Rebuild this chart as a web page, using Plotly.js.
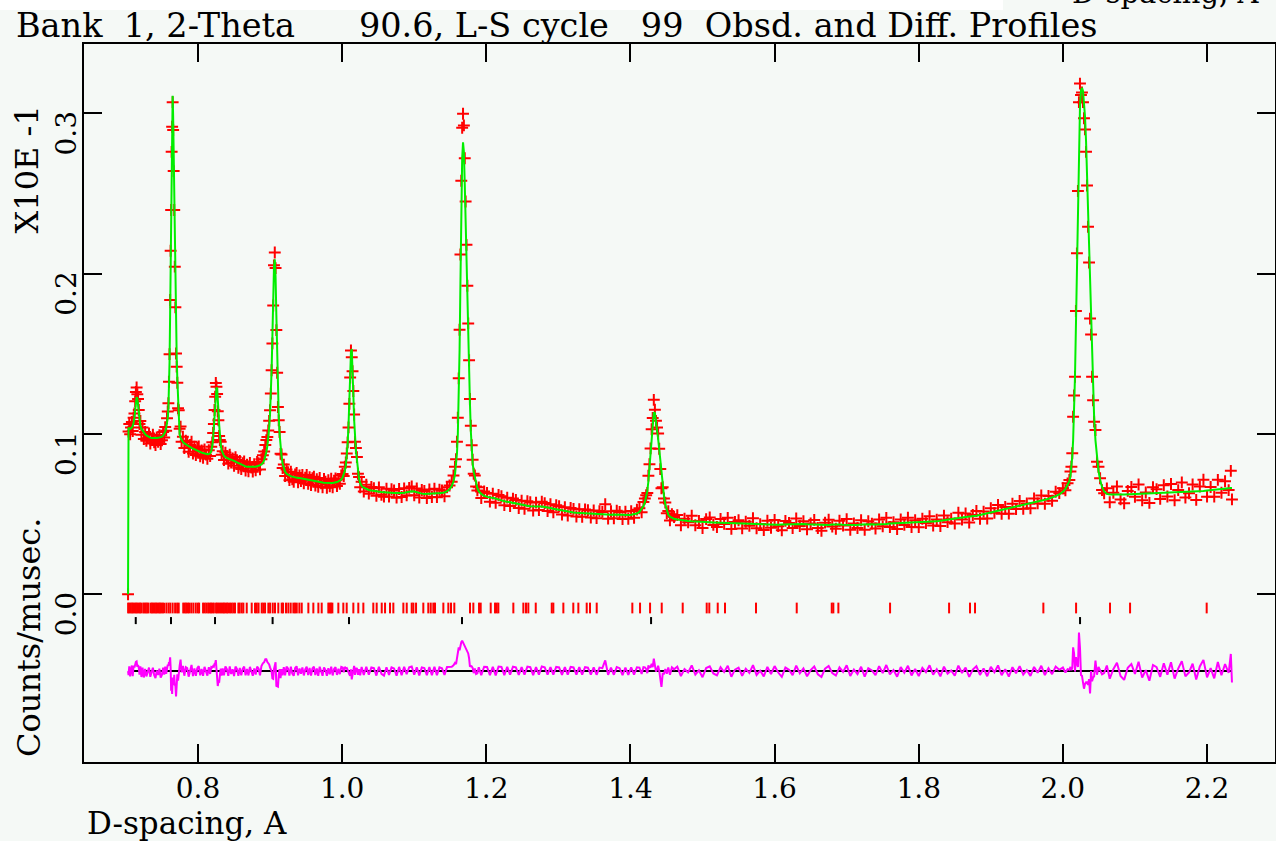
<!DOCTYPE html>
<html>
<head>
<meta charset="utf-8">
<script src="https://cdn.plot.ly/plotly-3.0.1.min.js"></script>
<style>html,body{margin:0;padding:0;background:#f5f9f6;}#chart{width:1276px;height:841px;}</style>
</head>
<body>
<div id="chart"></div>
<script>
// ---- D-spacing of each profile point (A) ----
const dSpacing = [
0.7029,0.7036,0.7046,0.7058,0.7070,0.7082,0.7094,0.7106,0.7118,0.7128,
0.7138,0.7148,0.7158,0.7168,0.7178,0.7188,0.7200,0.7215,0.7230,0.7248,
0.7266,0.7284,0.7302,0.7320,0.7338,0.7356,0.7374,0.7392,0.7410,0.7428,
0.7446,0.7464,0.7482,0.7500,0.7516,0.7531,0.7545,0.7558,0.7570,0.7580,
0.7589,0.7597,0.7605,0.7613,0.7620,0.7627,0.7634,0.7641,0.7648,0.7655,
0.7662,0.7670,0.7678,0.7686,0.7695,0.7704,0.7713,0.7723,0.7733,0.7745,
0.7758,0.7772,0.7790,0.7810,0.7830,0.7850,0.7870,0.7890,0.7910,0.7930,
0.7950,0.7970,0.7990,0.8010,0.8030,0.8050,0.8070,0.8090,0.8110,0.8130,
0.8150,0.8168,0.8184,0.8198,0.8210,0.8220,0.8229,0.8238,0.8247,0.8256,
0.8265,0.8274,0.8283,0.8293,0.8303,0.8315,0.8328,0.8342,0.8360,0.8380,
0.8400,0.8420,0.8440,0.8460,0.8480,0.8500,0.8520,0.8540,0.8560,0.8580,
0.8600,0.8620,0.8640,0.8660,0.8680,0.8700,0.8720,0.8740,0.8760,0.8780,
0.8800,0.8820,0.8840,0.8860,0.8880,0.8900,0.8918,0.8934,0.8948,0.8962,
0.8975,0.8987,0.8999,0.9010,0.9021,0.9032,0.9043,0.9054,0.9065,0.9076,
0.9087,0.9098,0.9109,0.9120,0.9132,0.9145,0.9159,0.9174,0.9190,0.9208,
0.9228,0.9248,0.9268,0.9288,0.9308,0.9328,0.9348,0.9368,0.9388,0.9408,
0.9428,0.9448,0.9468,0.9488,0.9508,0.9528,0.9548,0.9568,0.9588,0.9608,
0.9628,0.9648,0.9668,0.9688,0.9708,0.9728,0.9748,0.9768,0.9788,0.9808,
0.9828,0.9848,0.9868,0.9888,0.9908,0.9928,0.9948,0.9968,0.9988,1.0006,
1.0022,1.0037,1.0051,1.0064,1.0076,1.0088,1.0100,1.0111,1.0122,1.0133,
1.0144,1.0155,1.0166,1.0178,1.0191,1.0205,1.0219,1.0234,1.0250,1.0270,
1.0300,1.0335,1.0370,1.0405,1.0440,1.0475,1.0510,1.0545,1.0580,1.0615,
1.0650,1.0685,1.0720,1.0755,1.0790,1.0825,1.0860,1.0895,1.0930,1.0965,
1.1000,1.1035,1.1070,1.1105,1.1140,1.1175,1.1210,1.1245,1.1280,1.1315,
1.1350,1.1385,1.1420,1.1455,1.1490,1.1520,1.1545,1.1565,1.1580,1.1593,
1.1605,1.1617,1.1629,1.1641,1.1653,1.1665,1.1677,1.1689,1.1701,1.1713,
1.1725,1.1737,1.1749,1.1761,1.1773,1.1785,1.1797,1.1810,1.1825,1.1841,
1.1858,1.1876,1.1895,1.1930,1.1970,1.2010,1.2050,1.2090,1.2130,1.2170,
1.2210,1.2250,1.2290,1.2330,1.2370,1.2410,1.2450,1.2490,1.2530,1.2570,
1.2610,1.2650,1.2690,1.2730,1.2770,1.2810,1.2850,1.2890,1.2930,1.2970,
1.3010,1.3050,1.3090,1.3130,1.3170,1.3210,1.3250,1.3290,1.3330,1.3370,
1.3410,1.3450,1.3490,1.3530,1.3570,1.3610,1.3650,1.3690,1.3730,1.3770,
1.3810,1.3850,1.3890,1.3930,1.3970,1.4010,1.4050,1.4090,1.4125,1.4155,
1.4180,1.4200,1.4218,1.4234,1.4249,1.4264,1.4279,1.4294,1.4309,1.4324,
1.4339,1.4354,1.4369,1.4384,1.4399,1.4414,1.4430,1.4447,1.4465,1.4484,
1.4504,1.4525,1.4548,1.4575,1.4605,1.4650,1.4700,1.4750,1.4800,1.4850,
1.4900,1.4950,1.5000,1.5050,1.5100,1.5150,1.5200,1.5250,1.5300,1.5350,
1.5400,1.5450,1.5500,1.5550,1.5600,1.5650,1.5700,1.5750,1.5800,1.5850,
1.5900,1.5950,1.6000,1.6050,1.6100,1.6150,1.6200,1.6250,1.6300,1.6350,
1.6400,1.6450,1.6500,1.6550,1.6600,1.6650,1.6700,1.6750,1.6800,1.6850,
1.6900,1.6950,1.7000,1.7050,1.7100,1.7150,1.7200,1.7250,1.7300,1.7350,
1.7400,1.7450,1.7500,1.7550,1.7600,1.7650,1.7700,1.7750,1.7800,1.7850,
1.7900,1.7950,1.8000,1.8050,1.8100,1.8150,1.8200,1.8250,1.8300,1.8350,
1.8400,1.8450,1.8500,1.8550,1.8600,1.8650,1.8700,1.8750,1.8800,1.8850,
1.8900,1.8950,1.9000,1.9050,1.9100,1.9150,1.9200,1.9250,1.9300,1.9350,
1.9400,1.9450,1.9500,1.9550,1.9600,1.9650,1.9700,1.9750,1.9800,1.9850,
1.9900,1.9950,2.0000,2.0035,2.0065,2.0090,2.0105,2.0118,2.0130,2.0142,
2.0155,2.0168,2.0181,2.0195,2.0209,2.0223,2.0237,2.0251,2.0265,2.0279,
2.0293,2.0307,2.0321,2.0335,2.0349,2.0363,2.0377,2.0391,2.0405,2.0419,
2.0433,2.0452,2.0473,2.0494,2.0516,2.0543,2.0572,2.0610,2.0650,2.0700,
2.0750,2.0800,2.0850,2.0900,2.0950,2.1000,2.1050,2.1100,2.1150,2.1200,
2.1250,2.1300,2.1350,2.1400,2.1450,2.1500,2.1550,2.1600,2.1650,2.1700,
2.1750,2.1800,2.1850,2.1900,2.1950,2.2000,2.2050,2.2100,2.2150,2.2200,
2.2250,2.2300,2.2330,2.2346
];

// ---- Observed counts/musec (x10E-1) ----
const observed = [
0.0000,0.1015,0.1062,0.0998,0.1041,0.1075,0.1018,0.1102,0.1128,0.1205,
0.1262,0.1290,0.1248,0.1218,0.1150,0.1062,0.1081,0.0995,0.1041,0.0968,
0.1012,0.0958,0.0974,0.1003,0.0941,0.0962,0.0995,0.0948,0.0931,0.0979,
0.0952,0.0992,0.0938,0.0961,0.1012,0.0978,0.1043,0.1021,0.1098,0.1140,
0.1192,0.1326,0.1498,0.1836,0.2143,0.2397,0.2760,0.2917,0.3070,0.2896,
0.2640,0.2397,0.2044,0.1790,0.1502,0.1420,0.1320,0.1160,0.1148,0.1032,
0.1046,0.0952,0.0983,0.0912,0.0958,0.0947,0.0889,0.0931,0.0952,0.0878,
0.0921,0.0869,0.0913,0.0922,0.0861,0.0897,0.0852,0.0904,0.0871,0.0846,
0.0899,0.0862,0.0921,0.0948,0.1006,0.1062,0.1150,0.1232,0.1318,0.1295,
0.1250,0.1142,0.1085,0.0988,0.0962,0.0951,0.0870,0.0893,0.0838,0.0884,
0.0861,0.0815,0.0871,0.0822,0.0848,0.0802,0.0856,0.0837,0.0789,0.0832,
0.0781,0.0818,0.0829,0.0772,0.0809,0.0768,0.0820,0.0791,0.0765,0.0812,
0.0774,0.0826,0.0818,0.0779,0.0842,0.0868,0.0891,0.0932,0.0962,0.0981,
0.1022,0.1082,0.1148,0.1252,0.1398,0.1565,0.1802,0.2052,0.2132,0.2035,
0.1648,0.1382,0.1168,0.1085,0.1012,0.0876,0.0872,0.0788,0.0809,0.0738,
0.0779,0.0761,0.0712,0.0765,0.0718,0.0702,0.0748,0.0757,0.0699,0.0741,
0.0706,0.0745,0.0693,0.0728,0.0744,0.0689,0.0731,0.0682,0.0725,0.0734,
0.0679,0.0718,0.0671,0.0726,0.0692,0.0668,0.0719,0.0703,0.0665,0.0712,
0.0674,0.0721,0.0668,0.0709,0.0722,0.0676,0.0718,0.0690,0.0742,0.0751,
0.0738,0.0796,0.0822,0.0879,0.0948,0.1041,0.1188,0.1352,0.1521,0.1478,
0.1392,0.1268,0.1122,0.0951,0.0912,0.0856,0.0752,0.0731,0.0668,0.0702,
0.0641,0.0683,0.0628,0.0669,0.0662,0.0614,0.0667,0.0621,0.0609,0.0659,
0.0610,0.0656,0.0648,0.0603,0.0657,0.0607,0.0661,0.0617,0.0664,0.0672,
0.0618,0.0660,0.0604,0.0651,0.0645,0.0601,0.0654,0.0607,0.0659,0.0606,
0.0653,0.0648,0.0611,0.0668,0.0679,0.0702,0.0741,0.0796,0.0843,0.0952,
0.1102,0.1347,0.1650,0.2120,0.2580,0.2910,0.2998,0.2925,0.2720,0.2450,
0.2180,0.1925,0.1690,0.1460,0.1218,0.1052,0.0930,0.0840,0.0752,0.0741,
0.0672,0.0648,0.0667,0.0601,0.0641,0.0632,0.0578,0.0628,0.0571,0.0619,
0.0612,0.0556,0.0603,0.0551,0.0597,0.0589,0.0538,0.0584,0.0534,0.0581,
0.0574,0.0523,0.0572,0.0526,0.0577,0.0569,0.0519,0.0562,0.0512,0.0556,
0.0549,0.0498,0.0543,0.0492,0.0538,0.0533,0.0485,0.0531,0.0484,0.0529,
0.0524,0.0479,0.0523,0.0475,0.0519,0.0514,0.0562,0.0472,0.0518,0.0474,
0.0521,0.0513,0.0469,0.0516,0.0471,0.0519,0.0477,0.0528,0.0536,0.0512,
0.0575,0.0598,0.0618,0.0632,0.0740,0.0812,0.0910,0.1030,0.1100,0.1213,
0.1152,0.1082,0.1040,0.1003,0.0908,0.0781,0.0662,0.0668,0.0598,0.0572,
0.0505,0.0519,0.0461,0.0499,0.0482,0.0494,0.0431,0.0471,0.0449,0.0490,
0.0431,0.0457,0.0413,0.0469,0.0479,0.0433,0.0420,0.0470,0.0439,0.0477,
0.0408,0.0451,0.0462,0.0411,0.0453,0.0427,0.0474,0.0412,0.0438,0.0401,
0.0459,0.0415,0.0464,0.0425,0.0399,0.0458,0.0445,0.0413,0.0473,0.0426,
0.0456,0.0405,0.0442,0.0464,0.0414,0.0396,0.0447,0.0465,0.0423,0.0409,
0.0459,0.0429,0.0469,0.0402,0.0442,0.0414,0.0462,0.0403,0.0456,0.0441,
0.0410,0.0467,0.0424,0.0477,0.0420,0.0449,0.0407,0.0467,0.0433,0.0478,
0.0420,0.0462,0.0419,0.0471,0.0444,0.0487,0.0429,0.0466,0.0426,0.0491,
0.0450,0.0472,0.0442,0.0509,0.0467,0.0504,0.0448,0.0495,0.0520,0.0471,
0.0516,0.0473,0.0537,0.0508,0.0557,0.0502,0.0545,0.0503,0.0565,0.0532,
0.0582,0.0534,0.0567,0.0536,0.0598,0.0567,0.0617,0.0565,0.0613,0.0584,
0.0640,0.0631,0.0662,0.0649,0.0692,0.0713,0.0766,0.0796,0.0880,0.1108,
0.1240,0.1357,0.1767,0.2127,0.2516,0.3070,0.3186,0.3115,0.3130,0.3070,
0.2970,0.2900,0.2760,0.2550,0.2293,0.2070,0.1720,0.1620,0.1357,0.1210,
0.1077,0.1025,0.0827,0.0796,0.0724,0.0650,0.0630,0.0661,0.0574,0.0633,
0.0673,0.0592,0.0568,0.0645,0.0669,0.0608,0.0685,0.0587,0.0635,0.0570,
0.0668,0.0656,0.0595,0.0681,0.0610,0.0688,0.0587,0.0650,0.0698,0.0604,
0.0630,0.0685,0.0589,0.0672,0.0715,0.0609,0.0669,0.0609,0.0714,0.0633,
0.0705,0.0650,0.0770,0.0592
];

// ---- Calculated profile ----
const calculated = [
0.0000,0.1040,0.1032,0.1031,0.1034,0.1040,0.1050,0.1068,0.1105,0.1155,
0.1205,0.1230,0.1222,0.1180,0.1128,0.1085,0.1052,0.1032,0.1020,0.1008,
0.0999,0.0991,0.0985,0.0981,0.0977,0.0975,0.0974,0.0974,0.0974,0.0975,
0.0976,0.0977,0.0979,0.0983,0.0990,0.1000,0.1015,0.1038,0.1065,0.1100,
0.1160,0.1270,0.1450,0.1750,0.2120,0.2520,0.2850,0.3060,0.3110,0.2980,
0.2720,0.2420,0.2130,0.1880,0.1660,0.1480,0.1340,0.1220,0.1130,0.1000,
0.0975,0.0960,0.0950,0.0941,0.0934,0.0929,0.0924,0.0919,0.0914,0.0909,
0.0904,0.0899,0.0895,0.0891,0.0887,0.0884,0.0881,0.0878,0.0876,0.0874,
0.0875,0.0880,0.0895,0.0925,0.0975,0.1035,0.1105,0.1185,0.1250,0.1290,
0.1285,0.1235,0.1150,0.1060,0.0990,0.0935,0.0898,0.0876,0.0864,0.0855,
0.0849,0.0845,0.0842,0.0840,0.0837,0.0833,0.0828,0.0823,0.0818,0.0813,
0.0808,0.0804,0.0801,0.0798,0.0796,0.0795,0.0794,0.0794,0.0794,0.0795,
0.0796,0.0798,0.0801,0.0805,0.0811,0.0820,0.0835,0.0858,0.0888,0.0925,
0.0975,0.1040,0.1125,0.1240,0.1400,0.1610,0.1850,0.2040,0.2090,0.1980,
0.1740,0.1480,0.1265,0.1110,0.1000,0.0920,0.0860,0.0815,0.0785,0.0765,
0.0752,0.0745,0.0740,0.0737,0.0734,0.0731,0.0729,0.0727,0.0726,0.0725,
0.0723,0.0722,0.0720,0.0718,0.0716,0.0714,0.0712,0.0710,0.0708,0.0706,
0.0704,0.0702,0.0700,0.0699,0.0698,0.0697,0.0696,0.0695,0.0694,0.0694,
0.0694,0.0694,0.0695,0.0696,0.0698,0.0700,0.0704,0.0709,0.0716,0.0728,
0.0745,0.0770,0.0805,0.0860,0.0940,0.1055,0.1210,0.1380,0.1510,0.1530,
0.1420,0.1250,0.1090,0.0975,0.0895,0.0840,0.0775,0.0720,0.0694,0.0676,
0.0665,0.0656,0.0651,0.0647,0.0644,0.0642,0.0640,0.0638,0.0637,0.0635,
0.0634,0.0633,0.0632,0.0632,0.0631,0.0632,0.0634,0.0637,0.0640,0.0643,
0.0641,0.0636,0.0631,0.0628,0.0626,0.0627,0.0629,0.0632,0.0633,0.0631,
0.0630,0.0631,0.0635,0.0643,0.0655,0.0675,0.0705,0.0745,0.0800,0.0880,
0.1000,0.1200,0.1520,0.1950,0.2400,0.2720,0.2820,0.2760,0.2560,0.2300,
0.2040,0.1800,0.1580,0.1380,0.1190,0.1020,0.0900,0.0820,0.0765,0.0725,
0.0690,0.0662,0.0643,0.0626,0.0614,0.0606,0.0603,0.0602,0.0598,0.0591,
0.0586,0.0581,0.0577,0.0574,0.0570,0.0566,0.0562,0.0559,0.0556,0.0553,
0.0550,0.0548,0.0547,0.0548,0.0548,0.0546,0.0542,0.0538,0.0534,0.0530,
0.0526,0.0522,0.0518,0.0515,0.0512,0.0510,0.0508,0.0507,0.0506,0.0505,
0.0503,0.0501,0.0500,0.0498,0.0497,0.0496,0.0495,0.0495,0.0496,0.0497,
0.0496,0.0495,0.0494,0.0494,0.0495,0.0496,0.0499,0.0504,0.0514,0.0530,
0.0550,0.0575,0.0605,0.0645,0.0705,0.0790,0.0885,0.0985,0.1075,0.1135,
0.1130,0.1085,0.1030,0.0970,0.0905,0.0835,0.0760,0.0685,0.0615,0.0560,
0.0522,0.0497,0.0484,0.0476,0.0471,0.0466,0.0462,0.0459,0.0457,0.0455,
0.0453,0.0452,0.0451,0.0450,0.0449,0.0448,0.0447,0.0446,0.0445,0.0444,
0.0443,0.0442,0.0441,0.0440,0.0439,0.0438,0.0437,0.0436,0.0435,0.0434,
0.0433,0.0433,0.0433,0.0434,0.0435,0.0436,0.0437,0.0438,0.0439,0.0440,
0.0439,0.0437,0.0436,0.0435,0.0434,0.0433,0.0432,0.0433,0.0435,0.0437,
0.0436,0.0434,0.0433,0.0432,0.0432,0.0433,0.0435,0.0437,0.0438,0.0437,
0.0436,0.0436,0.0437,0.0439,0.0441,0.0442,0.0442,0.0442,0.0443,0.0445,
0.0447,0.0449,0.0450,0.0451,0.0451,0.0451,0.0452,0.0455,0.0459,0.0463,
0.0466,0.0468,0.0471,0.0475,0.0479,0.0482,0.0484,0.0486,0.0490,0.0495,
0.0500,0.0505,0.0510,0.0516,0.0522,0.0528,0.0533,0.0537,0.0541,0.0546,
0.0551,0.0556,0.0561,0.0566,0.0572,0.0578,0.0584,0.0590,0.0596,0.0603,
0.0612,0.0623,0.0640,0.0658,0.0680,0.0705,0.0740,0.0790,0.0860,0.0960,
0.1130,0.1360,0.1680,0.2080,0.2490,0.2830,0.3040,0.3140,0.3160,0.3140,
0.3080,0.2980,0.2830,0.2620,0.2380,0.2120,0.1860,0.1620,0.1420,0.1250,
0.1110,0.0960,0.0850,0.0770,0.0715,0.0670,0.0642,0.0626,0.0622,0.0621,
0.0621,0.0622,0.0623,0.0624,0.0625,0.0626,0.0627,0.0628,0.0629,0.0630,
0.0630,0.0631,0.0631,0.0632,0.0632,0.0633,0.0634,0.0635,0.0636,0.0637,
0.0638,0.0639,0.0641,0.0643,0.0645,0.0648,0.0651,0.0654,0.0657,0.0659,
0.0661,0.0662,0.0663,0.0663
];

// ---- Reflection positions (A) ----
const phase1Reflections = [
0.7030,0.7048,0.7066,0.7085,0.7102,0.7120,0.7139,0.7157,0.7175,0.7194,0.7212,
0.7240,0.7258,0.7276,0.7295,0.7313,
0.7345,0.7363,0.7381,0.7399,0.7418,0.7436,0.7455,0.7473,0.7492,0.7510,0.7528,
0.7560,0.7590,0.7615,0.7648,0.7682,0.7710,0.7732,
0.7795,0.7815,0.7835,0.7855,0.7875,
0.7905,0.7935,0.7968,0.7995,0.8015,
0.8070,0.8092,0.8115,0.8140,0.8160,0.8180,0.8200,0.8220,
0.8250,0.8268,0.8286,0.8305,0.8323,0.8342,0.8360,0.8380,0.8400,0.8418,
0.8444,0.8467,0.8490,0.8513,
0.8560,0.8578,0.8606,0.8629,0.8676,0.8745,
0.8791,0.8815,0.8840,0.8884,0.8906,0.8930,0.8976,0.9000,
0.9037,0.9068,0.9114,0.9161,0.9180,0.9221,0.9253,0.9286,0.9323,0.9346,0.9370,0.9406,0.9439,
0.9531,0.9600,0.9670,0.9716,0.9808,0.9826,0.9845,0.9864,0.9947,1.0016,1.0063,
1.0155,1.0224,1.0294,1.0432,1.0479,1.0549,1.0595,1.0664,1.0710,1.0849,1.0896,1.0965,1.0988,1.1025,
1.1126,1.1195,1.1229,1.1265,1.1288,1.1404,1.1473,1.1510,1.1556,
1.1774,1.1820,1.1899,1.1922,1.2061,1.2121,1.2144,1.2167,
1.2375,1.2514,1.2551,1.2583,1.2686,1.2908,1.2930,1.3069,1.3207,1.3277,1.3393,1.3439,1.3532,
1.4026,1.4133,1.4272,1.4434,1.4725,1.5058,1.5094,1.5211,1.5312,1.5742,1.6307,
1.6793,1.6815,1.6885,1.7602,1.8421,1.8711,1.8781,1.9729,2.0183,2.0654,2.0932,2.1995
];
const phase2Reflections = [0.7136,0.7625,0.8236,0.9035,1.0095,1.1663,1.4286,2.0238];

// ---- Axis ticks ----
const xTickValues = [0.8,1.0,1.2,1.4,1.6,1.8,2.0,2.2];
const xTickLabels = ['0.8','1.0','1.2','1.4','1.6','1.8','2.0','2.2'];
const yTickValues = [0.0,0.1,0.2,0.3];
const yTickLabels = ['0.0','0.1','0.2','0.3'];

// ---- derived ----
const diffOffset = -0.0479;
const difference = observed.map((v, i) => v - calculated[i] + diffOffset);

function tickSegments(ds, y0, y1) {
  const x = [], y = [];
  ds.forEach(d => { x.push(d, d, null); y.push(y0, y1, null); });
  return {x, y};
}
const t1 = tickSegments(phase1Reflections, -0.0052, -0.0119);
const t2 = tickSegments(phase2Reflections, -0.0142, -0.0186);

const FONT = 'DejaVu Serif';
const nb = '\u00A0';

const traces = [
  { x: dSpacing, y: observed, type: 'scatter', mode: 'markers',
    marker: { symbol: 'cross-thin-open', size: 8.5, color: '#ff0000', line: { color: '#ff0000', width: 2 } } },
  { x: dSpacing, y: calculated, type: 'scatter', mode: 'lines',
    line: { color: '#00ee00', width: 2 } },
  { x: t1.x, y: t1.y, type: 'scatter', mode: 'lines', line: { color: '#ff0000', width: 2 } },
  { x: t2.x, y: t2.y, type: 'scatter', mode: 'lines', line: { color: '#000000', width: 2 } },
  { x: [dSpacing[0], dSpacing[dSpacing.length - 1]], y: [diffOffset, diffOffset], type: 'scatter', mode: 'lines',
    line: { color: '#000000', width: 2 } },
  { x: dSpacing, y: difference, type: 'scatter', mode: 'lines', line: { color: '#ff00ff', width: 2 } }
];

const titleText = 'Bank' + nb + nb + '1,' + nb + '2-Theta' + nb.repeat(6) + '90.6,' + nb + 'L-S' + nb + 'cycle' +
  nb.repeat(3) + '99' + nb + nb + 'Obsd.' + nb + 'and' + nb + 'Diff.' + nb + 'Profiles';

const layout = {
  width: 1276, height: 841,
  paper_bgcolor: '#f5f9f6', plot_bgcolor: '#f5f9f6',
  margin: { l: 84, r: 1, t: 44, b: 79, pad: 0 },
  showlegend: false,
  xaxis: {
    range: [0.6418, 2.2943], tickmode: 'array', tickvals: xTickValues, ticktext: xTickLabels,
    ticks: 'inside', ticklen: 18, tickwidth: 2, tickcolor: '#000',
    showline: true, linecolor: '#000', linewidth: 2, mirror: 'ticks',
    showgrid: false, zeroline: false,
    tickfont: { family: FONT, size: 28, color: '#000' }
  },
  yaxis: {
    range: [-0.10462, 0.34329], tickmode: 'array', tickvals: yTickValues, ticktext: yTickLabels,
    ticks: 'inside', ticklen: 18, tickwidth: 2, tickcolor: '#000',
    showline: true, linecolor: '#000', linewidth: 2, mirror: 'ticks',
    showgrid: false, zeroline: false, tickangle: -90, ticklabelshift: 24, ticklabelstandoff: -5,
    tickfont: { family: FONT, size: 28, color: '#000' }
  },
  shapes: [
    { type: 'rect', xref: 'paper', yref: 'paper', x0: -0.0706, x1: 0.7716, y0: 1.0474, y1: 1.08,
      fillcolor: '#ffffff', line: { width: 0 }, layer: 'above' }
  ],
  annotations: [
    { text: titleText, xref: 'paper', yref: 'paper', x: -0.0588, y: 1.0251, xanchor: 'left', yanchor: 'middle',
      showarrow: false, font: { family: FONT, size: 33.5, color: '#000' } },
    { text: 'X10E' + nb + '-1', xref: 'paper', yref: 'paper', x: -0.0475, y: 0.8259, xanchor: 'center', yanchor: 'middle',
      textangle: -90, showarrow: false, font: { family: FONT, size: 32, color: '#000' } },
    { text: 'Counts/musec.', xref: 'paper', yref: 'paper', x: -0.0462, y: 0.1741, xanchor: 'center', yanchor: 'middle',
      textangle: -90, showarrow: false, font: { family: FONT, size: 32, color: '#000' } },
    { text: 'D-spacing, A', xref: 'paper', yref: 'paper', x: 0.0008, y: -0.0850, xanchor: 'left', yanchor: 'middle',
      showarrow: false, font: { family: FONT, size: 31, color: '#000' } },
    { text: 'D-spacing, A', xref: 'paper', yref: 'paper', x: 0.8279, y: 1.0710, xanchor: 'left', yanchor: 'middle',
      showarrow: false, font: { family: FONT, size: 29, color: '#000' } }
  ]
};

Plotly.newPlot('chart', traces, layout, { staticPlot: true, displayModeBar: false });
</script>
</body>
</html>
